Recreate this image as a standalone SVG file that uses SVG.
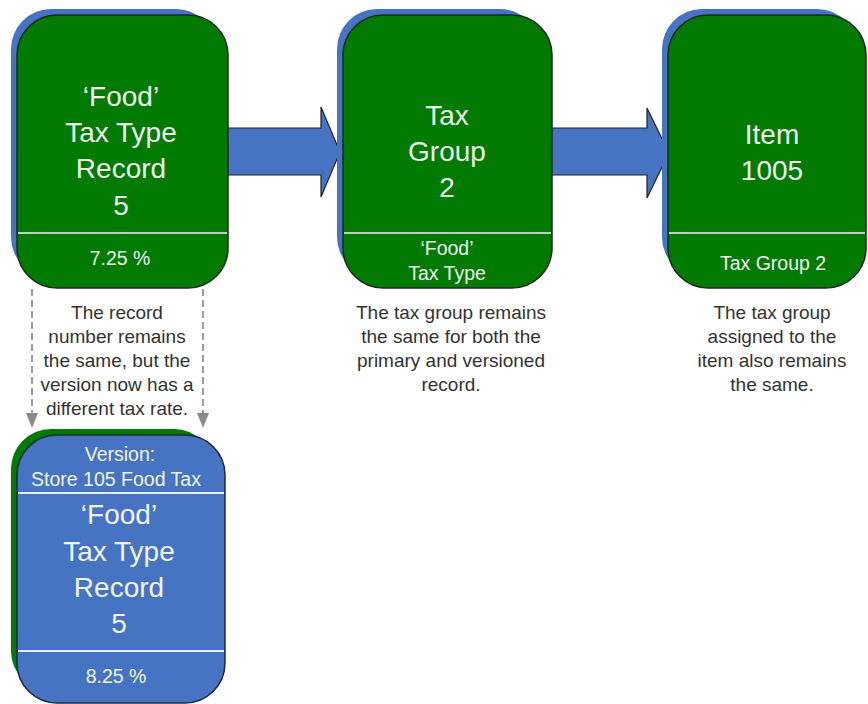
<svg xmlns="http://www.w3.org/2000/svg" width="868" height="704" viewBox="0 0 868 704">
<defs>
<style>
.g{fill:#007a00;stroke:#1a2a1a;stroke-width:1.5}
.b{fill:#4673c2;stroke:#1a2a3a;stroke-width:1.5}
.gs{fill:#4673c2}
.bs{fill:#007a00}
.div{stroke:#b8d4b8;stroke-width:2}
.divb{stroke:#e8eef8;stroke-width:2}
.big{font-family:"Liberation Sans",Arial,sans-serif;font-size:28px;fill:#eef5ee;text-anchor:middle}
.sm{font-family:"Liberation Sans",Arial,sans-serif;font-size:19.5px;fill:#eef5ee;text-anchor:middle}
.note{font-family:"Liberation Sans",Arial,sans-serif;font-size:19px;fill:#333;text-anchor:middle}
.arr{fill:#4673c2;stroke:#222;stroke-width:1.2}
.dash{stroke:#9a9a9a;stroke-width:2;stroke-dasharray:7,4;fill:none}
.ah{fill:#8a8a8a}
</style>
</defs>

<g id="connectors">
<path class="arr" d="M226,128 L321,128 L321,107 L340,152 L321,197 L321,175 L226,175 Z"/>
<path class="arr" d="M550,128 L647,128 L647,108 L669,153 L647,198 L647,175 L550,175 Z"/>
<line class="dash" x1="32" y1="289" x2="32" y2="414"/>
<path class="ah" d="M26,413 L38,413 L32,428 Z"/>
<line class="dash" x1="203" y1="289" x2="203" y2="414"/>
<path class="ah" d="M197,413 L209,413 L203,428 Z"/>
</g>

<g id="node-food-tax-type">
<rect class="gs" x="11" y="9" width="205" height="268" rx="40"/>
<rect class="g" x="17" y="15" width="211" height="273" rx="40"/>
<line class="div" x1="18" y1="233" x2="227" y2="233"/>
<text class="big" x="121" y="106">‘Food’</text>
<text class="big" x="121" y="142">Tax Type</text>
<text class="big" x="121" y="178">Record</text>
<text class="big" x="121" y="215">5</text>
<text class="sm" x="120" y="265">7.25 %</text>
</g>

<g id="node-tax-group">
<rect class="gs" x="337" y="9" width="203" height="268" rx="40"/>
<rect class="g" x="343" y="15" width="209" height="273" rx="40"/>
<line class="div" x1="344" y1="233" x2="551" y2="233"/>
<text class="big" x="447" y="125">Tax</text>
<text class="big" x="447" y="161">Group</text>
<text class="big" x="447" y="197">2</text>
<text class="sm" x="447" y="255">‘Food’</text>
<text class="sm" x="447" y="280">Tax Type</text>
</g>

<g id="node-item">
<rect class="gs" x="662" y="9" width="195" height="268" rx="40"/>
<rect class="g" x="668" y="15" width="198" height="273" rx="40"/>
<line class="div" x1="669" y1="233" x2="865" y2="233"/>
<text class="big" x="772" y="144">Item</text>
<text class="big" x="772" y="180">1005</text>
<text class="sm" x="773" y="270">Tax Group 2</text>
</g>

<g id="node-version">
<rect class="bs" x="11" y="429" width="203" height="262" rx="40"/>
<rect class="b" x="17" y="435" width="208" height="268" rx="40"/>
<line class="divb" x1="18" y1="493" x2="224" y2="493"/>
<line class="divb" x1="18" y1="651" x2="224" y2="651"/>
<text class="sm" x="120" y="461">Version:</text>
<text class="sm" x="116" y="486">Store 105 Food Tax</text>
<text class="big" x="119" y="524">‘Food’</text>
<text class="big" x="119" y="561">Tax Type</text>
<text class="big" x="119" y="597">Record</text>
<text class="big" x="119" y="633">5</text>
<text class="sm" x="116" y="683">8.25 %</text>
</g>

<g id="notes">
<text class="note" x="117" y="319">The record</text>
<text class="note" x="117" y="343">number remains</text>
<text class="note" x="117" y="367">the same, but the</text>
<text class="note" x="117" y="391">version now has a</text>
<text class="note" x="117" y="415">different tax rate.</text>
<text class="note" x="451" y="319">The tax group remains</text>
<text class="note" x="451" y="343">the same for both the</text>
<text class="note" x="451" y="367">primary and versioned</text>
<text class="note" x="451" y="391">record.</text>
<text class="note" x="772" y="319">The tax group</text>
<text class="note" x="772" y="343">assigned to the</text>
<text class="note" x="772" y="367">item also remains</text>
<text class="note" x="772" y="391">the same.</text>
</g>
</svg>
